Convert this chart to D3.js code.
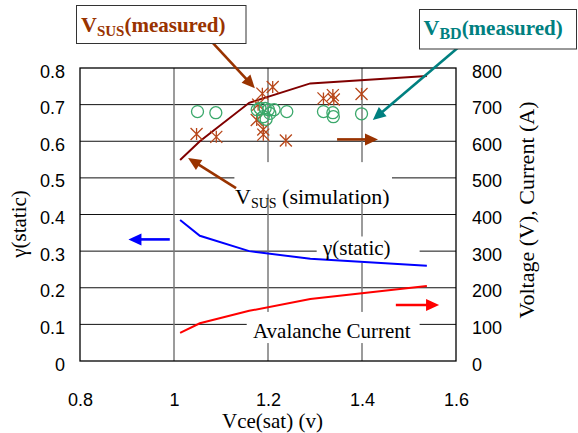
<!DOCTYPE html>
<html>
<head>
<meta charset="utf-8">
<script src="https://cdn.jsdelivr.net/npm/d3@7"></script>
<style>
  body { margin: 0; background: #fff; }
  svg { display: block; }
</style>
</head>
<body>
<svg id="chart" width="578" height="433"></svg>
<script>
// Simulated curves (shared Vce(sat) sample points)
const simVce = [1.013, 1.055, 1.16, 1.29, 1.538];
const vsusSim = [549, 600, 705, 758, 778];          // V, right axis
const gammaStatic = [0.385, 0.342, 0.300, 0.279, 0.260]; // left axis
const avalancheCurrent = [77, 103, 137, 169, 205];  // A, right axis

// Measured sustaining voltage (asterisks)
const vsusMeasVce = [1.048, 1.090, 1.176, 1.179, 1.188, 1.210, 1.190, 1.190, 1.238, 1.318, 1.338, 1.340, 1.399];
const vsusMeas    = [620,   612,   658,   700,   730,   748,   632,   618,   602,   717,   726,   714,   729];

// Measured breakdown voltage (circles)
const vbdMeasVce = [1.050, 1.089, 1.177, 1.183, 1.194, 1.201, 1.213, 1.190, 1.204, 1.196, 1.240, 1.318, 1.338, 1.339, 1.399];
const vbdMeas    = [681,   678,   686,   690,   690,   686,   686,   667,   676,   660,   681,   681,   678,   667,   675];

// Axis ticks
const xTicks = [0.8, 1.0, 1.2, 1.4, 1.6];
const gammaTicks = [0, 0.1, 0.2, 0.3, 0.4, 0.5, 0.6, 0.7, 0.8];
const rightTicks = [0, 100, 200, 300, 400, 500, 600, 700, 800];

const svg = d3.select("#chart");
const plot = { left: 80, right: 456, top: 68, bottom: 361 };

const x = d3.scaleLinear().domain([0.8, 1.6]).range([plot.left, plot.right]);
const yL = d3.scaleLinear().domain([0, 0.8]).range([plot.bottom, plot.top]);
const yR = d3.scaleLinear().domain([0, 800]).range([plot.bottom, plot.top]);

const sans = "'Liberation Sans', Arial, sans-serif";
const serif = "'Liberation Serif', 'Times New Roman', serif";

const brown = "#993300";
const teal = "#008080";
const starColor = "#B8471A";
const circleColor = "#3BA86B";

// Gridlines
svg.append("g").selectAll("line").data(gammaTicks.slice(1, -1)).join("line")
  .attr("x1", plot.left).attr("x2", plot.right)
  .attr("y1", d => yL(d)).attr("y2", d => yL(d))
  .attr("stroke", "#111").attr("stroke-width", 1);
svg.append("g").selectAll("line").data(xTicks.slice(1, -1)).join("line")
  .attr("x1", d => x(d)).attr("x2", d => x(d))
  .attr("y1", plot.top).attr("y2", plot.bottom)
  .attr("stroke", "#7a7a7a").attr("stroke-width", 1.5);

// White backgrounds behind the in-plot labels
const bgBoxes = [
  { x0: 1.1285, x1: 1.4638, v0: 455, v1: 543 },   // Vsus (simulation)
  { x0: 1.3036, x1: 1.5226, g0: 0.268, g1: 0.340 }, // gamma(static)
  { x0: 1.1547, x1: 1.5226, v0: 49, v1: 134 }     // Avalanche Current
];
svg.append("g").selectAll("rect").data(bgBoxes).join("rect")
  .attr("x", d => x(d.x0))
  .attr("width", d => x(d.x1) - x(d.x0))
  .attr("y", d => d.v1 !== undefined ? yR(d.v1) : yL(d.g1))
  .attr("height", d => d.v1 !== undefined ? yR(d.v0) - yR(d.v1) : yL(d.g0) - yL(d.g1))
  .attr("fill", "#fff");

// Frame
svg.append("rect")
  .attr("x", plot.left).attr("y", plot.top)
  .attr("width", plot.right - plot.left).attr("height", plot.bottom - plot.top)
  .attr("fill", "none").attr("stroke", "#000").attr("stroke-width", 1.3);

// Axes
const gLeft = svg.append("g").attr("transform", `translate(${plot.left},0)`)
  .call(d3.axisLeft(yL).tickValues(gammaTicks).tickSize(0).tickPadding(15)
    .tickFormat(d => d === 0 ? "0" : d3.format(".1f")(d)));
const gRight = svg.append("g").attr("transform", `translate(${plot.right},0)`)
  .call(d3.axisRight(yR).tickValues(rightTicks).tickSize(0).tickPadding(16)
    .tickFormat(d3.format("d")));
const gBottom = svg.append("g").attr("transform", `translate(0,${plot.bottom})`)
  .call(d3.axisBottom(x).tickValues(xTicks).tickSize(0).tickPadding(32)
    .tickFormat(d => d === 1 ? "1" : d3.format(".1f")(d)));
[gLeft, gRight, gBottom].forEach(g => {
  g.select(".domain").remove();
  g.selectAll("text").attr("font-family", sans).attr("font-size", 18).attr("fill", "#000");
});
gLeft.selectAll("text").attr("dy", "0.5em");
gRight.selectAll("text").attr("dy", "0.5em");

// Axis titles
svg.append("text").attr("x", 272.5).attr("y", 428).attr("text-anchor", "middle")
  .attr("font-family", serif).attr("font-size", 21).text("Vce(sat) (v)");
svg.append("text").attr("transform", "translate(26,224) rotate(-90)").attr("text-anchor", "middle")
  .attr("font-family", serif).attr("font-size", 21).text("γ(static)");
svg.append("text").attr("transform", "translate(534,210) rotate(-90)").attr("text-anchor", "middle")
  .attr("font-family", serif).attr("font-size", 22).text("Voltage (V), Current (A)");

// Simulated curves
const lineR = (vals) => d3.line().x((d, i) => x(simVce[i])).y(d => yR(d))(vals);
const lineL = (vals) => d3.line().x((d, i) => x(simVce[i])).y(d => yL(d))(vals);
svg.append("path").attr("d", lineR(vsusSim)).attr("fill", "none").attr("stroke", "#800000").attr("stroke-width", 2);
svg.append("path").attr("d", lineL(gammaStatic)).attr("fill", "none").attr("stroke", "#0000ff").attr("stroke-width", 2);
svg.append("path").attr("d", lineR(avalancheCurrent)).attr("fill", "none").attr("stroke", "#ff0000").attr("stroke-width", 2);

// Measured Vsus asterisks
const s = 6;
const starPath = `M${-s},${-s}L${s},${s}M${-s},${s}L${s},${-s}M0,${-s}L0,${s}`;
svg.append("g").selectAll("path").data(vsusMeas).join("path")
  .attr("transform", (d, i) => `translate(${x(vsusMeasVce[i])},${yR(d)})`)
  .attr("d", starPath).attr("fill", "none").attr("stroke", starColor).attr("stroke-width", 1.3);

// Measured Vbd circles
svg.append("g").selectAll("circle").data(vbdMeas).join("circle")
  .attr("cx", (d, i) => x(vbdMeasVce[i])).attr("cy", d => yR(d)).attr("r", 6)
  .attr("fill", "none").attr("stroke", circleColor).attr("stroke-width", 1.3);

// Arrows (tail -> tip, in data coordinates on the right axis)
const arrows = [
  { x0: 1.083, v0: 868, x1: 1.172, v1: 745, color: brown },  // Vsus(measured)
  { x0: 1.604, v0: 855, x1: 1.423, v1: 658, color: teal },   // Vbd(measured)
  { x0: 1.132, v0: 472, x1: 1.030, v1: 554, color: brown },  // Vsus(simulation)
  { x0: 1.347, v0: 605, x1: 1.434, v1: 605, color: brown },  // to right axis
  { x0: 0.991, v0: 332, x1: 0.903, v1: 332, color: "#0000ff" }, // to left axis
  { x0: 1.472, v0: 153, x1: 1.564, v1: 153, color: "#ff0000" }  // to right axis
];
const ag = svg.append("g");
arrows.forEach(a => {
  const px0 = x(a.x0), py0 = yR(a.v0), px1 = x(a.x1), py1 = yR(a.v1);
  const dx = px1 - px0, dy = py1 - py0, len = Math.hypot(dx, dy);
  const ux = dx / len, uy = dy / len, hl = 13, hw = 6;
  const bx = px1 - ux * hl, by = py1 - uy * hl;
  ag.append("line").attr("x1", px0).attr("y1", py0).attr("x2", bx + ux).attr("y2", by + uy)
    .attr("stroke", a.color).attr("stroke-width", 2.6);
  ag.append("path")
    .attr("d", `M${px1},${py1}L${bx - uy * hw},${by + ux * hw}L${bx + uy * hw},${by - ux * hw}Z`)
    .attr("fill", a.color);
});

// Callout boxes
svg.append("rect").attr("x", 76.5).attr("y", 5.5).attr("width", 169.5).attr("height", 38)
  .attr("fill", "#fff").attr("stroke", "#333").attr("stroke-width", 1);
const t1 = svg.append("text").attr("x", 81).attr("y", 32).attr("font-family", serif)
  .attr("font-weight", "bold").attr("fill", brown);
t1.append("tspan").attr("font-size", 22).text("V");
t1.append("tspan").attr("font-size", 15).attr("dy", 4).text("SUS");
t1.append("tspan").attr("font-size", 21).attr("dy", -4).text("(measured)");

svg.append("rect").attr("x", 419.5).attr("y", 9.5).attr("width", 157).attr("height", 39.5)
  .attr("fill", "#fff").attr("stroke", "#333").attr("stroke-width", 1);
const t2 = svg.append("text").attr("x", 423.5).attr("y", 35).attr("font-family", serif)
  .attr("font-weight", "bold").attr("fill", teal);
t2.append("tspan").attr("font-size", 22).text("V");
t2.append("tspan").attr("font-size", 16).attr("dy", 4).text("BD");
t2.append("tspan").attr("font-size", 21).attr("dy", -4).text("(measured)");

// In-plot labels
const t3 = svg.append("text").attr("x", 235).attr("y", 204).attr("font-family", serif).attr("fill", "#000");
t3.append("tspan").attr("font-size", 22).text("V");
t3.append("tspan").attr("font-size", 14).attr("dy", 4).text("SUS");
t3.append("tspan").attr("font-size", 22).attr("dy", -4).text("\u00a0(simulation)");

svg.append("text").attr("x", 323).attr("y", 255).attr("font-family", serif)
  .attr("font-size", 21).text("γ(static)");
svg.append("text").attr("x", 253).attr("y", 338).attr("font-family", serif)
  .attr("font-size", 21).text("Avalanche Current");
</script>
</body>
</html>
